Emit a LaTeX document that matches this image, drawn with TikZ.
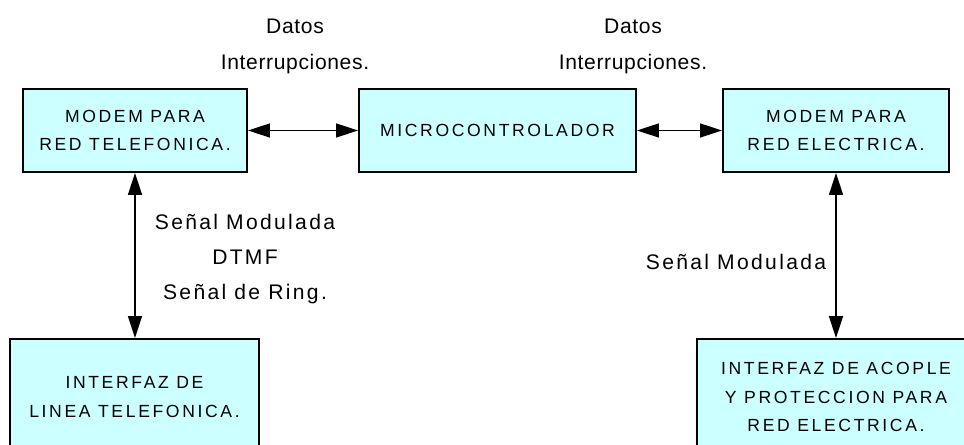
\documentclass[tikz,border=0pt]{standalone}
\usepackage{fontspec}
\usepackage{tikz}
\usetikzlibrary{arrows.meta}
\newfontfamily\boxfont[LetterSpace=15]{Liberation Sans}
\newfontfamily\lblfont[LetterSpace=3]{Liberation Sans}
\newfontfamily\sigfont[LetterSpace=11]{Liberation Sans}
\definecolor{boxcyan}{RGB}{204,255,255}
\tikzset{
  block/.style = {draw=black, fill=boxcyan, line width=1.1pt, align=center,
                  inner sep=0pt, minimum height=1.66cm,
                  font=\boxfont\fontsize{10}{16.4}\selectfont},
  bigblock/.style = {block, minimum height=2.32cm},
  arr/.style   = {{Triangle[length=0.44cm, width=0.28cm]}-{Triangle[length=0.44cm, width=0.28cm]},
                  line width=0.8pt},
  lbl/.style   = {align=center, inner sep=0pt,
                  font=\lblfont\fontsize{12}{20.5}\selectfont},
  siglbl/.style = {lbl, font=\sigfont\fontsize{12}{20}\selectfont}
}

\begin{document}
\begin{tikzpicture}[x=0.02cm, y=-0.02cm]
    \useasboundingbox (0,0) rectangle (964,445);
    \clip (0,0) rectangle (964,445);
    % top row
    \node[block, minimum width=4.48cm](modemtel) at (135,130.5)   {MODEM PARA\\RED TELEFONICA.};
    \node[block, minimum width=5.54cm](micro)    at (497.5,130.5) {MICROCONTROLADOR};
    \node[block, minimum width=4.52cm](modemel)  at (836,130.5)   {MODEM PARA\\RED ELECTRICA.};
    % bottom row
    \node[bigblock, minimum width=4.98cm](ifaztel) at (134.5,397) {INTERFAZ DE\\LINEA TELEFONICA.};
    \node[bigblock, minimum width=5.56cm](ifazel)  at (836,397)   {INTERFAZ DE ACOPLE\\Y PROTECCION PARA\\RED ELECTRICA.};
    \draw[arr](modemtel)--(micro); \draw[arr](micro)--(modemel);
    \draw[arr](modemtel.south)--(modemtel.south |- ifaztel.north);
    \draw[arr](modemel.south)--(modemel.south |- ifazel.north);
    \node[lbl](lbltel)  at (295,46)  {Datos\\Interrupciones.};
    \node[lbl](lblel)   at (633,46)  {Datos\\Interrupciones.};
    \node[siglbl](lblsig)  at (245,259) {Señal Modulada\\DTMF\\Señal de Ring.};
    \node[siglbl](lblmod)  at (736,262) {Señal Modulada};
\end{tikzpicture}
\end{document}
